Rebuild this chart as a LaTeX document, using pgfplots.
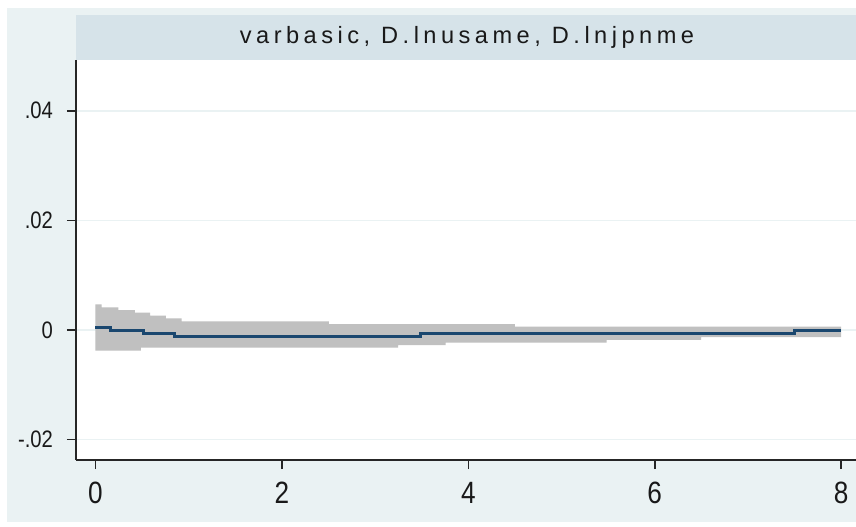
\documentclass[border=0pt]{standalone}
\usepackage{fontspec}
\setmainfont{Liberation Sans}
\newfontfamily\titlefont{Liberation Sans}[LetterSpace=19]
\newfontfamily\tickfont{Liberation Sans}[FakeStretch=0.85]
\usepackage{pgfplots}
\pgfplotsset{compat=1.18}
\definecolor{bgc}{RGB}{234,242,243}
\definecolor{titlec}{RGB}{214,227,233}
\definecolor{navy}{RGB}{26,71,111}
\definecolor{band}{RGB}{192,192,192}
\begin{document}
\begin{tikzpicture}[x=1bp,y=1bp]
\useasboundingbox (0,0) rectangle (428,263.5);
\fill[white] (0,0) rectangle (428,263.5);
\fill[bgc] (3.5,2.65) rectangle (428,259.5);
\fill[titlec] (38,233.5) rectangle (440,256);
\node[text=black!90, inner sep=0pt] at (233.5,244.75) {\titlefont\fontsize{11.8bp}{14bp}\selectfont varbasic, D.lnusame, D.lnjpnme};
\begin{axis}[
  at={(38bp,33.5bp)}, anchor=south west,
  scale only axis, width=395bp, height=200bp,
  xmin=-0.209, xmax=8.267, ymin=-0.02372, ymax=0.04927,
  axis x line*=bottom, axis y line*=left,
  axis line style={line width=1bp, black!85, -},
  axis background/.style={fill=white},
  xtick={0,2,4,6,8}, xticklabels={0,2,4,6,8},
  ytick={-0.02,0,0.02,0.04}, yticklabels={-.02,0,.02,.04},
  tick align=outside,
  major tick length=4.5bp,
  tick style={line width=0.8bp, black!85},
  ymajorgrids, grid style={line width=0.8bp, bgc},
  /pgf/number format/assume math mode=true,
  xticklabel style={font=\tickfont\fontsize{15.4bp}{18bp}\selectfont, text=black!90, yshift=-3bp},
  yticklabel style={font=\tickfont\fontsize{11.9bp}{14bp}\selectfont, text=black!90, xshift=-3.5bp},
  scaled y ticks=false,
]
\addplot[fill=band, draw=none, forget plot] coordinates {
(0,0.00469) (0.067,0.00469) (0.067,0.00414) (0.245,0.00414) (0.245,0.00365)
(0.424,0.00365) (0.424,0.00316) (0.585,0.00316) (0.585,0.00261) (0.756,0.00261)
(0.756,0.00214) (0.925,0.00214) (0.925,0.00159) (2.505,0.00159) (2.505,0.00109)
(4.5,0.00109) (4.5,0.0006) (8,0.0006)
(8,-0.00128) (6.497,-0.00128) (6.497,-0.00182) (5.485,-0.00182) (5.485,-0.00232)
(3.757,-0.00232) (3.757,-0.00274) (3.246,-0.00274) (3.246,-0.00323) (0.488,-0.00323)
(0.488,-0.00374) (0,-0.00374)
};
\addplot[const plot, navy, line width=1.5bp] coordinates {
(0,0.00042) (0.156,-0.00013) (0.513,-0.00068) (0.853,-0.00119) (3.489,-0.0006) (7.505,-0.00009) (8,-0.00009)
};
\end{axis}
\end{tikzpicture}
\end{document}
